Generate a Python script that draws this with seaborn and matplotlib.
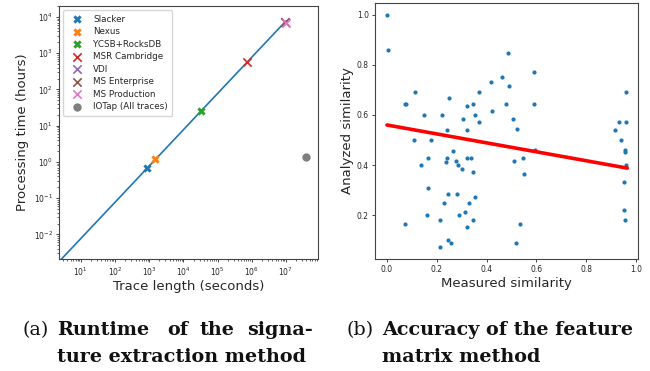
import numpy as np
import pandas as pd
import matplotlib
matplotlib.use('Agg')
import matplotlib.pyplot as plt
import seaborn as sns

# (a) 処理時間とトレース長
trace_names = ['Slacker', 'Nexus', 'YCSB+RocksDB', 'MSR Cambridge', 'VDI',
               'MS Enterprise', 'MS Production', 'IOTap (All traces)']
trace_len = [890, 1450, 33000, 720000, 9.5e6, 9.7e6, 1.02e7, 4.0e7]
proc_hours = [0.70, 1.2, 25, 560, 7200, 7300, 7000, 1.4]
trace_markers = ['X', 'X', 'X', 'x', 'x', 'x', 'x', 'o']
trace_colors = ['tab:blue', 'tab:orange', 'tab:green', 'tab:red', 'tab:purple',
                'tab:brown', 'tab:pink', 'tab:gray']
fit_x = [1, 1e7]
fit_y = [0.00077, 7700]

# (b) 類似度の散布図
measured = [0.0, 0.003, 0.072, 0.075, 0.113, 0.109, 0.072, 0.147, 0.137, 0.164,
            0.164, 0.162, 0.177, 0.221, 0.249, 0.243, 0.237, 0.243, 0.267, 0.279,
            0.287, 0.303, 0.245, 0.231, 0.212, 0.213, 0.247, 0.257, 0.282, 0.288,
            0.314, 0.307, 0.322, 0.322, 0.323, 0.336, 0.347, 0.355, 0.371, 0.371,
            0.346, 0.330, 0.323, 0.347, 0.355, 0.418, 0.420, 0.460, 0.479, 0.488,
            0.491, 0.507, 0.523, 0.509, 0.546, 0.551, 0.535, 0.517, 0.590, 0.592,
            0.594, 0.917, 0.933, 0.938, 0.960, 0.960, 0.957, 0.954, 0.958, 0.950,
            0.952, 0.954]
analyzed = [1.0, 0.857, 0.643, 0.643, 0.692, 0.5, 0.166, 0.6, 0.4, 0.429,
            0.308, 0.201, 0.5, 0.6, 0.666, 0.538, 0.414, 0.429, 0.455, 0.417,
            0.4, 0.385, 0.286, 0.25, 0.181, 0.072, 0.101, 0.09, 0.286, 0.201,
            0.214, 0.583, 0.636, 0.538, 0.429, 0.429, 0.642, 0.6, 0.571, 0.692,
            0.374, 0.25, 0.153, 0.181, 0.272, 0.732, 0.615, 0.75, 0.642, 0.846,
            0.714, 0.583, 0.545, 0.417, 0.427, 0.364, 0.166, 0.09, 0.77, 0.642,
            0.461, 0.538, 0.571, 0.5, 0.692, 0.571, 0.461, 0.454, 0.4, 0.334,
            0.222, 0.181]
sim_fit_x = [0.0, 0.965]
sim_fit_y = [0.56, 0.388]

x_decades = [1e1, 1e2, 1e3, 1e4, 1e5, 1e6, 1e7]
y_decades = [1e-2, 1e-1, 1e0, 1e1, 1e2, 1e3, 1e4]

sns.set_style('ticks')
plt.rcParams['font.family'] = ['DejaVu Sans']
plt.rcParams['axes.edgecolor'] = '#444444'
plt.rcParams['axes.linewidth'] = 0.8

W, H = 650, 371
fig = plt.figure(figsize=(6.5, 3.71), dpi=100)
ax1 = fig.add_axes([59 / W, (H - 259) / H, (318 - 59) / W, (259 - 6) / H])
ax2 = fig.add_axes([375 / W, (H - 259) / H, (638 - 375) / W, (259 - 3) / H])

# 左図
sns.lineplot(x=fit_x, y=fit_y, ax=ax1, color='tab:blue', lw=1.2, zorder=1)
for name, tx, ty, mk, col in zip(trace_names, trace_len, proc_hours,
                                 trace_markers, trace_colors):
    sns.scatterplot(x=[tx], y=[ty], ax=ax1, marker=mk, color=col, s=36,
                    label=name, zorder=3, linewidth=1.2 if mk == 'x' else 0)
ax1.set_xscale('log')
ax1.set_yscale('log')
ax1.set_xticks(x_decades)
ax1.set_yticks(y_decades)
ax1.set_xlim(2.3, 8.7e7)
ax1.set_ylim(0.0021, 2.0e4)
ax1.tick_params(which='major', labelsize=5.5, length=2.5, width=0.6, pad=2)
ax1.tick_params(which='minor', length=1.5, width=0.5)
ax1.set_xlabel('Trace length (seconds)', fontsize=9.5, labelpad=2)
ax1.set_ylabel('Processing time (hours)', fontsize=9.5, labelpad=3)
ax1.legend(loc='upper left', fontsize=6.3, frameon=True, labelspacing=0.4,
           handletextpad=0.9, borderpad=0.5, edgecolor='#cccccc')

# 右図
sns.scatterplot(x=measured, y=analyzed, ax=ax2, color='tab:blue', s=9,
                linewidth=0)
sns.lineplot(x=sim_fit_x, y=sim_fit_y, ax=ax2, color='red', lw=2.6)
ax2.set_xlim(-0.048, 1.008)
ax2.set_xticks([0.0, 0.2, 0.4, 0.6, 0.8, 1.0])
ax2.set_yticks([0.2, 0.4, 0.6, 0.8, 1.0])
ax2.tick_params(labelsize=5.5, length=2.5, width=0.6, pad=2)
ax2.set_xlabel('Measured similarity', fontsize=9.5, labelpad=2)
ax2.set_ylabel('Analyzed similarity', fontsize=9.5, labelpad=2)

# キャプション
cap = dict(fontsize=13.8, family='DejaVu Serif', va='center', color='#111111')
y1, y2 = 1 - 330 / H, 1 - 357 / H
fig.text(23 / W, y1, '(a)', **cap)
for word, px in [('Runtime', 57), ('of', 167), ('the', 200), ('signa-', 247)]:
    fig.text(px / W, y1, word, weight='bold', **cap)
fig.text(57 / W, y2, 'ture extraction method', weight='bold', **cap)
fig.text(347 / W, y1, '(b)', **cap)
fig.text(382 / W, y1, 'Accuracy of the feature', weight='bold', **cap)
fig.text(382 / W, y2, 'matrix method', weight='bold', **cap)

fig.savefig('out.png', dpi=100)
